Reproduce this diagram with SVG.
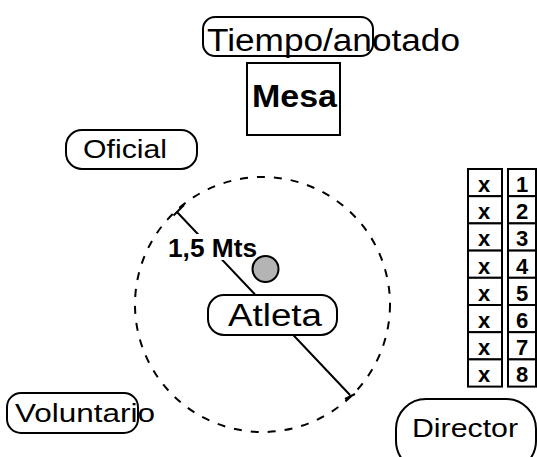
<svg xmlns="http://www.w3.org/2000/svg" width="537" height="457" viewBox="0 0 537 457">
<style>
.box{fill:#fff;stroke:#000;stroke-width:2}
.t{font-family:"Liberation Sans",Arial,sans-serif;fill:#000}
.cell{fill:#fff;stroke:#000;stroke-width:2}
.tb{font-family:"Liberation Sans",Arial,sans-serif;font-weight:bold;font-size:22px;text-anchor:middle;fill:#000}
.conn{fill:none;stroke:#000;stroke-width:2}
</style>
<rect width="537" height="457" fill="#fff"/>
<g id="connectors">
<circle cx="262.5" cy="304.5" r="127.5" class="conn" stroke-dasharray="8 9"/>
<path class="conn" d="M177 212 L350 395 M173.5 215.5 L184 205 M345 399 L355 394"/>
</g>
<g id="tiempo">
<rect class="box" x="203" y="17" width="170" height="39" rx="12"/>
<text class="t" x="207" y="51" font-size="31" textLength="253" lengthAdjust="spacingAndGlyphs">Tiempo/anotado</text>
</g>
<g id="mesa">
<rect class="box" x="247" y="63" width="93" height="72"/>
<text class="t" x="252" y="107" font-size="31" font-weight="bold" textLength="85" lengthAdjust="spacingAndGlyphs">Mesa</text>
</g>
<g id="oficial">
<rect class="box" x="66" y="130" width="131" height="39" rx="16"/>
<text class="t" x="83" y="158" font-size="25" textLength="84" lengthAdjust="spacingAndGlyphs">Oficial</text>
</g>
<g id="medida">
<rect x="166" y="234" width="92" height="26" fill="#fff"/>
<text class="t" x="168" y="257" font-size="25" font-weight="bold" textLength="89" lengthAdjust="spacingAndGlyphs">1,5 Mts</text>
</g>
<g id="bola">
<circle cx="265.5" cy="269" r="13" fill="#b4b4b4" stroke="#000" stroke-width="2"/>
</g>
<g id="atleta">
<rect class="box" x="208" y="295" width="129" height="40" rx="16"/>
<text class="t" x="228" y="326" font-size="31" textLength="94" lengthAdjust="spacingAndGlyphs">Atleta</text>
</g>
<g id="voluntario">
<rect class="box" x="7" y="393" width="131" height="40" rx="14"/>
<text class="t" x="15" y="422" font-size="26" textLength="140" lengthAdjust="spacingAndGlyphs">Voluntario</text>
</g>
<g id="director">
<rect class="box" x="396" y="399" width="140" height="72" rx="30"/>
<text class="t" x="412" y="437" font-size="26" textLength="106" lengthAdjust="spacingAndGlyphs">Director</text>
</g>
<g id="tabla">
<rect class="cell" x="468" y="169" width="34" height="27.2"/>
<rect class="cell" x="468" y="196.2" width="34" height="27.2"/>
<rect class="cell" x="468" y="223.4" width="34" height="27.2"/>
<rect class="cell" x="468" y="250.6" width="34" height="27.2"/>
<rect class="cell" x="468" y="277.8" width="34" height="27.2"/>
<rect class="cell" x="468" y="305" width="34" height="27.2"/>
<rect class="cell" x="468" y="332.2" width="34" height="27.2"/>
<rect class="cell" x="468" y="359.4" width="34" height="27.2"/>
<rect class="cell" x="508" y="169" width="28" height="27.2"/>
<rect class="cell" x="508" y="196.2" width="28" height="27.2"/>
<rect class="cell" x="508" y="223.4" width="28" height="27.2"/>
<rect class="cell" x="508" y="250.6" width="28" height="27.2"/>
<rect class="cell" x="508" y="277.8" width="28" height="27.2"/>
<rect class="cell" x="508" y="305" width="28" height="27.2"/>
<rect class="cell" x="508" y="332.2" width="28" height="27.2"/>
<rect class="cell" x="508" y="359.4" width="28" height="27.2"/>
<text class="tb" x="484" y="192">x</text>
<text class="tb" x="484" y="219.2">x</text>
<text class="tb" x="484" y="246.4">x</text>
<text class="tb" x="484" y="273.6">x</text>
<text class="tb" x="484" y="300.8">x</text>
<text class="tb" x="484" y="328">x</text>
<text class="tb" x="484" y="355.2">x</text>
<text class="tb" x="484" y="382.4">x</text>
<text class="tb" x="522" y="192">1</text>
<text class="tb" x="522" y="219.2">2</text>
<text class="tb" x="522" y="246.4">3</text>
<text class="tb" x="522" y="273.6">4</text>
<text class="tb" x="522" y="300.8">5</text>
<text class="tb" x="522" y="328">6</text>
<text class="tb" x="522" y="355.2">7</text>
<text class="tb" x="522" y="382.4">8</text>
</g>
</svg>
